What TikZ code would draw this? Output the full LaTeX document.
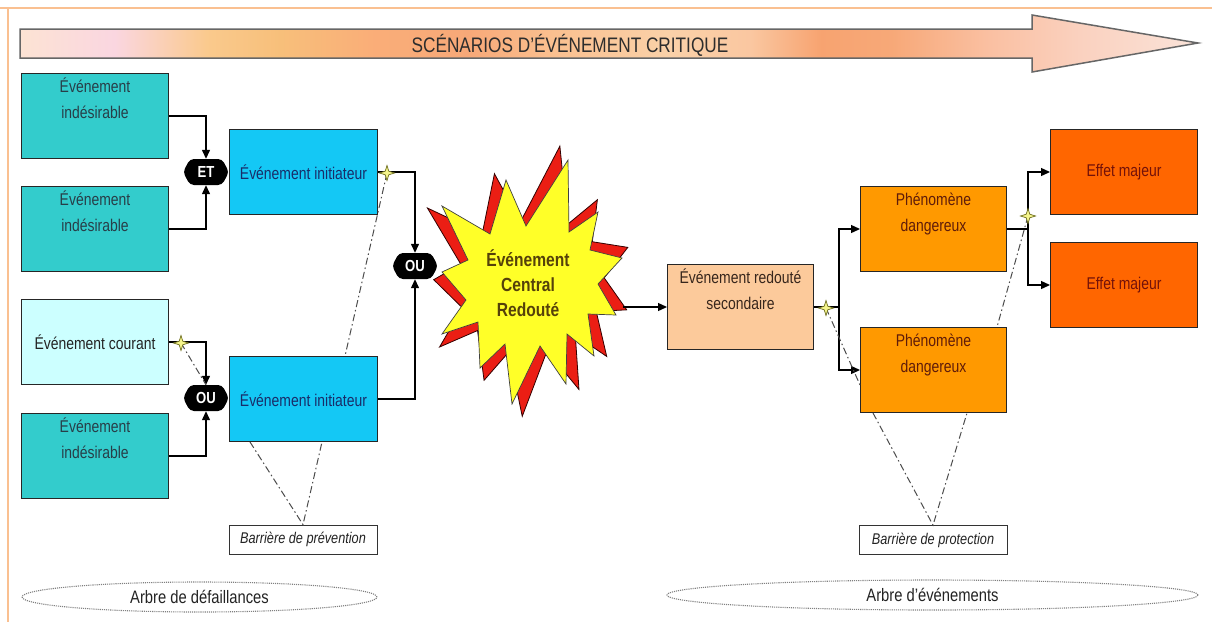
\documentclass[tikz,border=0pt]{standalone}
\usepackage{fontspec}
\setmainfont{Liberation Sans}[FakeStretch=0.82]
\usetikzlibrary{arrows.meta,shapes.geometric,calc}

% fills
\definecolor{evTeal}{RGB}{51,204,204}
\definecolor{evCurrent}{RGB}{204,255,255}
\definecolor{evBlue}{RGB}{20,200,245}
\definecolor{evPeach}{RGB}{252,202,155}
\definecolor{evOrange}{RGB}{255,153,0}
\definecolor{evDeep}{RGB}{255,102,0}
\definecolor{burstRed}{RGB}{235,30,20}
\definecolor{burstYellow}{RGB}{255,255,40}
\definecolor{sparkY}{RGB}{245,245,140}
\definecolor{sparkD}{RGB}{110,110,30}
\definecolor{frameOrange}{RGB}{250,192,145}
% texts
\definecolor{txTeal}{RGB}{40,62,72}
\definecolor{txBlue}{RGB}{25,45,105}
\definecolor{txDark}{RGB}{35,35,35}
\definecolor{txPeach}{RGB}{55,38,28}
\definecolor{txOrange}{RGB}{95,28,10}
\definecolor{txDeep}{RGB}{115,18,10}
\definecolor{txBurst}{RGB}{85,65,10}

% banner shading (middle 25bp..75bp spans the banner)
\pgfdeclarehorizontalshading{bannershade}{100bp}{%
  rgb(0bp)=(0.99,0.89,0.83);
  rgb(25bp)=(0.99,0.89,0.83);
  rgb(29bp)=(0.98,0.84,0.88);
  rgb(33bp)=(0.98,0.79,0.55);
  rgb(36bp)=(0.97,0.75,0.48);
  rgb(40bp)=(0.98,0.68,0.47);
  rgb(44bp)=(0.97,0.66,0.47);
  rgb(47.5bp)=(0.98,0.75,0.56);
  rgb(52.5bp)=(0.98,0.82,0.66);
  rgb(56bp)=(0.98,0.78,0.63);
  rgb(59bp)=(0.97,0.64,0.44);
  rgb(62bp)=(0.97,0.66,0.47);
  rgb(66bp)=(0.98,0.75,0.63);
  rgb(70bp)=(0.98,0.82,0.75);
  rgb(75bp)=(0.98,0.89,0.85);
  rgb(100bp)=(0.98,0.89,0.85)}

\newcommand{\boxfont}{\fontsize{17}{26}\selectfont}
\newcommand{\topbox}[1]{\parbox[c][85pt][t]{146pt}{\centering\rule{0pt}{19pt}#1}}

\tikzset{
  evbox/.style={draw=black!85, line width=1pt, minimum width=147pt,
    minimum height=85pt, inner sep=0pt, anchor=north west, font=\boxfont},
  gate/.style={rectangle, minimum width=46pt, minimum height=26pt,
    inner sep=0pt, text=white, font=\fontsize{16}{17}\selectfont\bfseries,
    path picture={\fill[black, rounded corners=4pt]
      (path picture bounding box.west)
      -- ($(path picture bounding box.north west)+(7,0)$)
      -- ($(path picture bounding box.north east)+(-7,0)$)
      -- (path picture bounding box.east)
      -- ($(path picture bounding box.south east)+(-7,0)$)
      -- ($(path picture bounding box.south west)+(7,0)$) -- cycle;}},
  conn/.style={draw=black, line width=1.3pt, -{Triangle[length=9pt,width=8pt]}},
  wire/.style={draw=black, line width=1.3pt},
  barrier/.style={draw=black!70, line width=1pt,
    dash pattern=on 7pt off 3pt on 1.5pt off 3pt},
  barbox/.style={draw=black!80, line width=0.8pt, fill=white,
    minimum width=148pt, minimum height=29pt, inner sep=0pt,
    font=\fontsize{15.5}{17}\selectfont\itshape, text=txDark},
  treeshape/.style={ellipse, draw=black!50, densely dotted, line width=1.1pt,
    minimum height=30pt, inner sep=0pt, text=txDark,
    font=\fontsize{18}{20}\selectfont},
  sparkle/.pic={\filldraw[fill=sparkY, draw=sparkD, line width=0.7pt]
    (0,-7.5) -- (1.8,-1.8) -- (7.5,0) -- (1.8,1.8) -- (0,7.5) -- (-1.8,1.8)
    -- (-7.5,0) -- (-1.8,-1.8) -- cycle;}
}

% outline of the central explosion
\def\burstpath{(568,160) -- (569,232) -- (598,212) -- (590,250) -- (622,258)
  -- (598,284) -- (616,315) -- (588,314) -- (594,356) -- (567,334) -- (566,384)
  -- (540,346) -- (512,404) -- (505,344) -- (480,368) -- (478,322) -- (442,334)
  -- (466,300) -- (442,272) -- (468,260) -- (442,206) -- (490,234) -- (506,180)
  -- (526,226) -- cycle}

\begin{document}
\begin{tikzpicture}[x=1pt,y=-1pt]
\useasboundingbox (0,0) rectangle (1212,622);
\fill[white] (0,0) rectangle (1212,622);

% page frame
\draw[frameOrange, line width=2.5pt] (0,8) -- (1212,8);
\draw[frameOrange, line width=2.5pt] (8,8) -- (8,622);

% banner arrow
\shadedraw[shading=bannershade, draw=black!60, line width=1.5pt]
  (20,29) -- (1032,29) -- (1032,15) -- (1198,43) -- (1032,72) -- (1032,58)
  -- (20,58) -- cycle;
\node[text={rgb,255:red,45;green,45;blue,45}, font=\fontsize{21}{24}\selectfont]
  (banner) at (570,45) {SCÉNARIOS D'ÉVÉNEMENT CRITIQUE};

% central dreaded event: red burst behind a yellow one
\begin{scope}[shift={(530,280)}, rotate=5, scale=1.09, shift={(-530,-280)}]
  \filldraw[fill=burstRed, draw=black!80!red, line width=0.8pt] \burstpath;
\end{scope}
\filldraw[fill=burstYellow, draw=black!75, line width=0.7pt] \burstpath;
\node[align=center, text=txBurst, font=\fontsize{19}{25}\selectfont\bfseries]
  (core) at (528,283) {Événement\\Central\\Redouté};
\coordinate (burst-e) at (623,307);

% fault tree side
\node[evbox, fill=evTeal, text=txTeal] (ind1) at (21,73) {\topbox{Événement\\indésirable}};
\node[evbox, fill=evTeal, text=txTeal] (ind2) at (21,186) {\topbox{Événement\\indésirable}};
\node[evbox, fill=evCurrent, text=txDark] (cour) at (21,299) {Événement courant};
\node[evbox, fill=evTeal, text=txTeal] (ind3) at (21,413) {\topbox{Événement\\indésirable}};
\node[evbox, fill=evBlue, text=txBlue, minimum width=148pt] (ini1) at (229,129) {Événement initiateur};
\node[evbox, fill=evBlue, text=txBlue, minimum width=148pt] (ini2) at (229,356) {Événement initiateur};

\node[gate] (et) at (206,172) {ET};
\node[gate] (ou2) at (206,398) {OU};
\node[gate] (ou1) at (415,266) {OU};

\draw[conn] (ind1.east) -| (et.north);
\draw[conn] (ind2.east) -| (et.south);
\draw[conn] (cour.east) -| (ou2.north);
\draw[conn] (ind3.east) -| (ou2.south);
\draw[conn] (ini1.east) -| (ou1.north);
\draw[conn] (ini2.east) -| (ou1.south);

% event tree side
\node[evbox, fill=evPeach, text=txPeach, minimum width=146pt] (sec) at (667,264) {\topbox{Événement redouté\\secondaire}};
\node[evbox, fill=evOrange, text=txOrange, minimum width=145pt] (ph1) at (860,186) {\topbox{Phénomène\\dangereux}};
\node[evbox, fill=evOrange, text=txOrange, minimum width=145pt] (ph2) at (860,327) {\topbox{Phénomène\\dangereux}};
\node[evbox, fill=evDeep, text=txDeep] (eff1) at (1050,129) {Effet majeur};
\node[evbox, fill=evDeep, text=txDeep] (eff2) at (1050,242) {Effet majeur};

\draw[conn] (burst-e) -- (sec.west);
\coordinate (split-a) at ($(sec.east)+(25,0)$);
\draw[wire] (sec.east) -- (split-a);
\draw[conn] (split-a) |- (ph1.west);
\draw[conn] (split-a) |- (ph2.west);
\coordinate (split-b) at ($(ph1.east)+(21,0)$);
\draw[wire] (ph1.east) -- (split-b);
\draw[conn] (split-b) |- (eff1.west);
\draw[conn] (split-b) |- (eff2.west);

% barriers
\node[barbox] (bprev) at (303,539.5) {Barrière de prévention};
\node[barbox] (bprot) at (933,540) {Barrière de protection};

\coordinate (spk-a) at ($(ini1.east)+(9,1)$);
\coordinate (spk-c) at ($(cour.east)+(12,1)$);
\coordinate (spk-d) at ($(sec.east)+(12,1)$);
\coordinate (spk-e) at ($(split-b)+(0,-13)$);

\draw[barrier] (spk-a) -- ($(ini2.north west)+(116,0)$);
\draw[barrier] (spk-c) -- (ou2.north);
\draw[barrier] ($(ini2.south west)+(21,0)$) -- (bprev.north) -- ($(ini2.south west)+(93,0)$);
\draw[barrier] (spk-d) -- ($(ph2.north west)+(0,58)$);
\draw[barrier] (spk-e) -- ($(ph2.north west)+(137,0)$);
\draw[barrier] ($(ph2.south west)+(13,0)$) -- (bprot.north) -- ($(ph2.south west)+(107,0)$);

\pic at (spk-a) {sparkle};
\pic at (spk-c) {sparkle};
\pic at (spk-d) {sparkle};
\pic at (spk-e) {sparkle};

% tree labels
\node[treeshape, minimum width=355pt] (tree-a) at (199.5,597) {Arbre de défaillances};
\node[treeshape, minimum width=531pt] (tree-b) at (932.5,595) {Arbre d'événements};
\end{tikzpicture}
\end{document}
